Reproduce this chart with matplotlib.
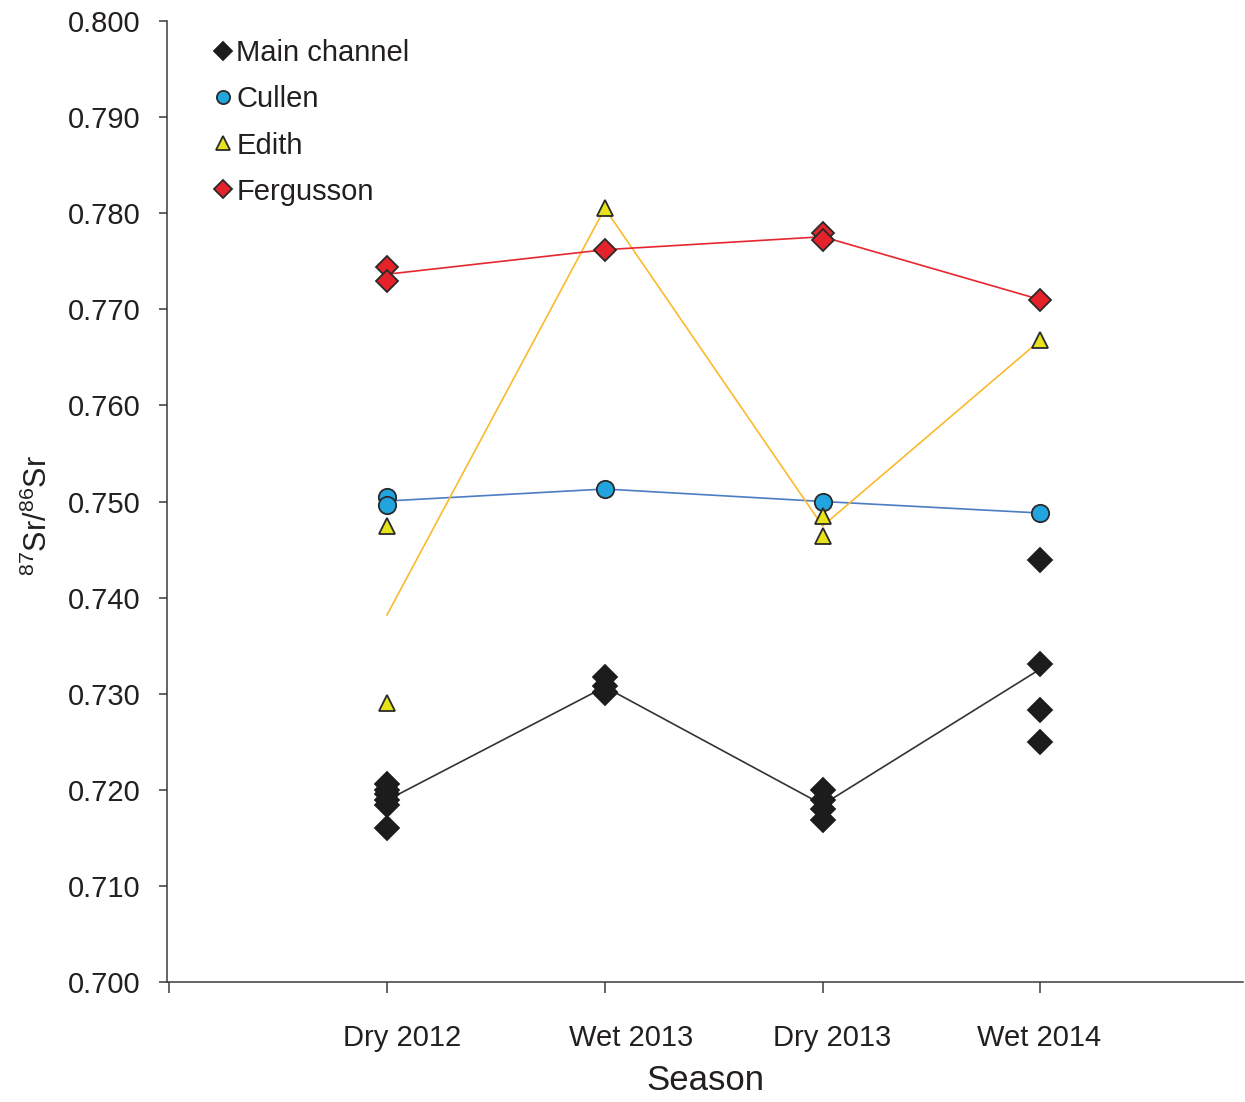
import matplotlib
matplotlib.use("Agg")
import matplotlib.pyplot as plt
import matplotlib.transforms as mtransforms
import numpy as np

plt.rcParams['font.family'] = ['Liberation Sans', 'DejaVu Sans']
plt.rcParams['mathtext.fontset'] = 'custom'
plt.rcParams['mathtext.rm'] = 'Liberation Sans'

# Seasons sampled
seasons = ["Dry 2012", "Wet 2013", "Dry 2013", "Wet 2014"]

# 87Sr/86Sr measurements per site and season
main_channel = [
    [0.7206, 0.7200, 0.7196, 0.7189, 0.7184, 0.7160],
    [0.7317, 0.7308, 0.7302, 0.7301],
    [0.7200, 0.7189, 0.7180, 0.7169],
    [0.7439, 0.7331, 0.7283, 0.7250],
]
cullen = [
    [0.7505, 0.7496],
    [0.7513],
    [0.7500],
    [0.7488],
]
edith = [
    [0.7474, 0.7290],
    [0.7805],
    [0.7485, 0.7464],
    [0.7668],
]
fergusson = [
    [0.7744, 0.7729],
    [0.7762],
    [0.7779, 0.7772],
    [0.7710],
]

# name, data, marker, marker size, legend marker size, face, edge, line colour
series = [
    ("Main channel", main_channel, "D", 12.0, 9.0, "#1c1c1c", "#1c1c1c", "#333333"),
    ("Cullen", cullen, "o", 12.5, 9.5, "#22a5de", "#2a2a2a", "#4c7cc4"),
    ("Edith", edith, "^", 12.0, 10.5, "#e8e21a", "#2a2a2a", "#fbba2c"),
    ("Fergusson", fergusson, "D", 11.5, 9.0, "#e52229", "#2a2a2a", "#e8262f"),
]

text_color = "#231f20"

fig = plt.figure(figsize=(12.45, 11.02), dpi=100)
ax = fig.add_axes([167 / 1245, 1 - 982 / 1102, (1243 - 167) / 1245, 961 / 1102])

xpos = np.arange(1, len(seasons) + 1)

for name, groups, marker, ms, lms, face, edge, lcolor in series:
    means = [np.mean(g) for g in groups]
    ax.plot(xpos, means, color=lcolor, lw=1.2, zorder=2)
    xs = np.concatenate([[x] * len(g) for x, g in zip(xpos, groups)])
    ys = np.concatenate(groups)
    ax.plot(xs, ys, linestyle="none", marker=marker, ms=ms,
            markerfacecolor=face, markeredgecolor=edge, markeredgewidth=1.3,
            label=name, zorder=3)

ax.set_xlim(-0.01, 4.93)
ax.set_ylim(0.700, 0.800)
ax.set_yticks(np.arange(0.700, 0.8001, 0.010))
ax.yaxis.set_major_formatter(matplotlib.ticker.FormatStrFormatter("%.3f"))
ax.set_xticks(np.concatenate([[0], xpos]))
ax.set_xticklabels([""] + seasons)

for side in ("top", "right"):
    ax.spines[side].set_visible(False)
for side in ("left", "bottom"):
    ax.spines[side].set_linewidth(1.1)
    ax.spines[side].set_color("#3a3a3a")

ax.tick_params(axis="y", direction="out", length=6, width=1.1, color="#3a3a3a",
               labelsize=21, labelcolor=text_color, pad=13)
ax.tick_params(axis="x", direction="out", length=8, width=1.1, color="#3a3a3a",
               labelsize=21, labelcolor=text_color, pad=22)

# nudge season labels horizontally (pixels)
nudges = [0, 15, 26, 10, -1]
for lab, dx in zip(ax.get_xticklabels(), nudges):
    lab.set_transform(lab.get_transform() +
                      mtransforms.ScaledTranslation(dx / 100, 0, fig.dpi_scale_trans))

ax.set_xlabel("Season", fontsize=25, color=text_color, labelpad=9)
ax.set_ylabel(r"$^{87}$Sr/$^{86}$Sr", fontsize=22, color=text_color)
ax.yaxis.set_label_coords(-0.105, 0.485)

leg = ax.legend(loc="upper left", bbox_to_anchor=(0.032, 0.993), frameon=False,
                fontsize=21, handlelength=0.7, handletextpad=0.1,
                labelspacing=0.62, borderaxespad=0)
for t in leg.get_texts():
    t.set_color(text_color)
for h, s in zip(leg.legend_handles, series):
    h.set_markersize(s[4])

fig.savefig("out.png", dpi=100)
